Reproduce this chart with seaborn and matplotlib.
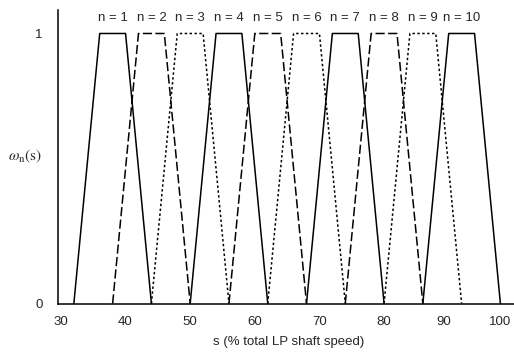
import pandas as pd
import matplotlib
matplotlib.use("Agg")
import matplotlib.pyplot as plt
import seaborn as sns

# trapezoid membership functions (s in %)
n_labels = [1, 2, 3, 4, 5, 6, 7, 8, 9, 10]
left_foot = [32, 38, 44, 50, 56, 62, 68, 74, 80, 86]
left_top = [36, 42, 48, 54, 60, 66, 72, 78, 84, 90]
right_top = [40, 46, 52, 58, 64, 70, 76, 82, 88, 94]
right_foot = [44, 50, 56, 62, 68, 74, 80, 86, 92, 98]
line_kind = ['solid', 'dashed', 'dotted', 'solid', 'dashed', 'dotted',
             'solid', 'dashed', 'dotted', 'solid']

# tick labels and where they sit on the s axis in the original drawing
tick_pos = [30, 40, 50, 60, 70, 80, 89.2, 97.9]
tick_labels = ['30', '40', '50', '60', '70', '80', '90', '100']

rows = []
for i, n in enumerate(n_labels):
    for s, w in [(left_foot[i], 0), (left_top[i], 1), (right_top[i], 1), (right_foot[i], 0)]:
        rows.append({'n': n, 's': s, 'w': w})
df = pd.DataFrame(rows)

sns.set_style("white")
plt.rcParams['font.family'] = ['Liberation Sans', 'DejaVu Sans']
plt.rcParams['mathtext.fontset'] = 'stix'

dash_styles = {'solid': '', 'dashed': (6, 2.2), 'dotted': (1.6, 1.6)}
dashes = {n: dash_styles[k] for n, k in zip(n_labels, line_kind)}

fig = plt.figure(figsize=(5.14, 3.52), dpi=100)
ax = fig.add_axes([57.7 / 514, 1 - 303.5 / 352, 1 - 57.7 / 514 + 0.01, (303.5 - 10) / 352])

sns.lineplot(data=df, x='s', y='w', style='n', dashes=dashes, color='black',
             sort=False, estimator=None, legend=False, lw=1.1, ax=ax)

for i, n in enumerate(n_labels):
    ax.text((left_top[i] + right_top[i]) / 2, 1.058, f"n = {n}",
            ha='center', va='center', fontsize=9.5)

ax.set_xlim(29.5, 100.9)
ax.set_ylim(0, 1.087)
ax.set_xticks(tick_pos)
ax.set_xticklabels(tick_labels, fontsize=9.5)
ax.set_yticks([0, 1])
ax.set_yticklabels(['0', '1'], fontsize=9.5)
ax.tick_params(length=0, pad=9)
ax.tick_params(axis='y', pad=11)
ax.set_xlabel('s (% total LP shaft speed)', fontsize=9.5, labelpad=6)
ax.set_ylabel(r'$\omega_\mathrm{n}\mathrm{(s)}$', fontsize=11, rotation=0,
              va='center', ha='center')
ax.yaxis.set_label_coords(-0.07, 0.5)
sns.despine(ax=ax)
for sp in ['left', 'bottom']:
    ax.spines[sp].set_color('black')
    ax.spines[sp].set_linewidth(1.1)

fig.savefig('out.png', dpi=100)
